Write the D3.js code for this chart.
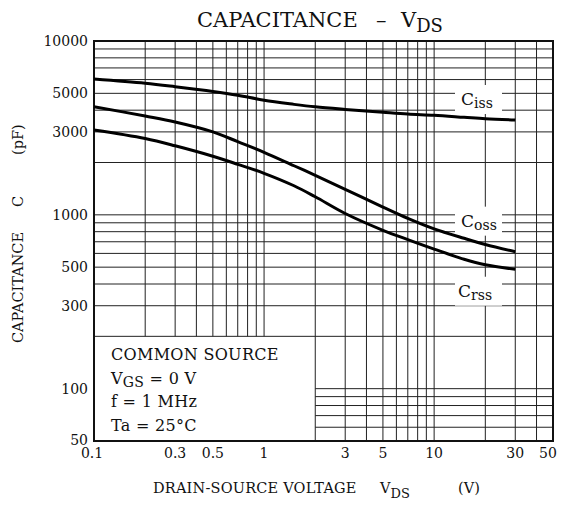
<!DOCTYPE html>
<html>
<head>
<meta charset="utf-8">
<script src="https://cdn.jsdelivr.net/npm/d3@7"></script>
<style>
  body { margin: 0; background: #fff; }
  text { font-family: "DejaVu Serif", "Liberation Serif", serif; fill: #111; }
</style>
</head>
<body>
<div id="chart"></div>
<script>

// size of the plot area
const widthPlot = 459;
const heightPlot = 400;
const marginPlot = {top: 41, bottom: 67, right: 9, left: 94};

// drain-source voltage (V) where the curves were read
const vdsValues = [0.1, 0.2, 0.3, 0.5, 0.7, 1, 1.5, 2, 3, 5, 7, 10, 15, 20, 30];

// capacitances (pF)
const cissValues = [6040, 5710, 5460, 5130, 4880, 4560, 4320, 4180, 4040, 3890, 3800, 3740, 3640, 3570, 3510];
const cossValues = [4190, 3700, 3420, 3000, 2635, 2290, 1916, 1688, 1403, 1109, 955, 831, 733, 675, 613];
const crssValues = [3076, 2748, 2496, 2173, 1953, 1734, 1470, 1270, 1018, 815, 720, 635, 555, 516, 486];

// tick labels
const xTickValues = [0.1, 0.3, 0.5, 1, 3, 5, 10, 30, 50];
const yTickValues = [50, 100, 300, 500, 1000, 3000, 5000, 10000];

// condition text in the lower left box ("|" marks the subscript)
const conditionLines = ["COMMON SOURCE", "V|GS| = 0 V", "f = 1 MHz", "Ta = 25°C"];

// curve names, and the capacitance where their label sits
const seriesNames = ["iss", "oss", "rss"];
const seriesLabelAt = [4284, 855, 338];

function drawChart() {

  var svg = d3.select("#chart")
      .append("svg")
      .attr("width", widthPlot + marginPlot.left + marginPlot.right)
      .attr("height", heightPlot + marginPlot.top + marginPlot.bottom);

  var g = svg.append("g")
      .attr("transform", "translate(" + marginPlot.left + "," + marginPlot.top + ")");

  var xScale = d3.scaleLog()
      .domain([0.1, 50])
      .range([0, widthPlot]);

  var yScale = d3.scaleLog()
      .domain([50, 10000])
      .range([heightPlot, 0]);

  // grid values, 1..9 per decade (no lines between 100 and 200 pF)
  var xGrid = [];
  [0.1, 1, 10].forEach(function(d) {
    for (var i = 1; i < 10; i++) {
      if (d * i <= 50) xGrid.push(+(d * i).toFixed(2));
    }
  });
  xGrid.push(50);
  var yGrid = [50, 60, 70, 80, 90, 100];
  [100, 1000].forEach(function(d) {
    for (var i = 2; i <= 10; i++) yGrid.push(d * i);
  });

  // the box with the conditions has no grid: 0.1..2 V, 50..200 pF
  var boxX = 2, boxY = 200;

  g.append("g")
      .attr("class", "grid-x")
    .selectAll("line")
      .data(xGrid)
      .enter()
      .append("line")
      .attr("x1", function(d) { return xScale(d); })
      .attr("x2", function(d) { return xScale(d); })
      .attr("y1", function(d) { return d < boxX ? yScale(boxY) : heightPlot; })
      .attr("y2", 0)
      .attr("stroke", "#222")
      .attr("stroke-width", 1);

  g.append("g")
      .attr("class", "grid-y")
    .selectAll("line")
      .data(yGrid)
      .enter()
      .append("line")
      .attr("x1", function(d) { return d < boxY ? xScale(boxX) : 0; })
      .attr("x2", widthPlot)
      .attr("y1", function(d) { return yScale(d); })
      .attr("y2", function(d) { return yScale(d); })
      .attr("stroke", "#222")
      .attr("stroke-width", 1);

  // frame
  g.append("rect")
      .attr("width", widthPlot)
      .attr("height", heightPlot)
      .attr("fill", "none")
      .attr("stroke", "#111")
      .attr("stroke-width", 2);

  // curve labels on a white patch
  var labels = g.append("g").attr("class", "labels");
  seriesNames.forEach(function(name, i) {
    var ly = yScale(seriesLabelAt[i]);
    labels.append("rect")
        .attr("x", 361)
        .attr("y", ly - 20)
        .attr("width", 47)
        .attr("height", 29)
        .attr("fill", "#fff");
    var t = labels.append("text")
        .attr("x", i === 2 ? 364 : 367)
        .attr("y", ly)
        .style("font-size", "17px")
        .text("C");
    t.append("tspan")
        .attr("dy", 3.5)
        .style("font-size", "14px")
        .text(name);
  });

  // the three curves
  var line = d3.line()
      .x(function(d) { return xScale(d.x); })
      .y(function(d) { return yScale(d.y); })
      .curve(d3.curveCatmullRom.alpha(0.5));

  [cissValues, cossValues, crssValues].forEach(function(values, i) {
    var data = vdsValues.map(function(v, j) { return {x: v, y: values[j]}; });
    g.append("path")
        .datum(data)
        .attr("class", "curve " + seriesNames[i])
        .attr("fill", "none")
        .attr("stroke", "#000")
        .attr("stroke-width", 3)
        .attr("d", line);
  });

  // tick labels x
  g.append("g")
      .attr("class", "x-ticks")
    .selectAll("text")
      .data(xTickValues)
      .enter()
      .append("text")
      .attr("x", function(d) { return xScale(d) + (d === 0.1 ? -2 : d === 50 ? -5 : 0); })
      .attr("y", heightPlot + 17)
      .attr("text-anchor", "middle")
      .style("font-size", "14px")
      .text(function(d) { return d; });

  // tick labels y
  g.append("g")
      .attr("class", "y-ticks")
    .selectAll("text")
      .data(yTickValues)
      .enter()
      .append("text")
      .attr("x", -6)
      .attr("y", function(d) { return yScale(d) + (d === 50 ? 4 : 5); })
      .attr("text-anchor", "end")
      .style("font-size", "14px")
      .text(function(d) { return d; });

  // conditions
  conditionLines.forEach(function(s, i) {
    var parts = s.split("|");
    var t = g.append("text")
        .attr("x", 17)
        .attr("y", yScale(boxY) + 23.5 + i * 23.7)
        .style("font-size", "16px")
        .style("letter-spacing", "0.3px")
        .text(parts[0]);
    if (parts.length > 1) {
      t.append("tspan").attr("dy", 3.5).style("font-size", "14px").text(parts[1]);
      t.append("tspan").attr("dy", -3.5).text(parts[2]);
    }
  });

  // title
  svg.append("text")
      .attr("x", 197)
      .attr("y", 26.7)
      .style("font-size", "21px")
      .text("CAPACITANCE");
  svg.append("text")
      .attr("x", 376)
      .attr("y", 26.7)
      .style("font-size", "21px")
      .text("–");
  svg.append("text")
      .attr("x", 401)
      .attr("y", 26.7)
      .style("font-size", "21px")
      .text("V")
    .append("tspan")
      .attr("dy", 5)
      .style("font-size", "18px")
      .text("DS");

  // x-axis title
  svg.append("text")
      .attr("x", 153)
      .attr("y", 492.7)
      .style("font-size", "14.5px")
      .style("letter-spacing", "0.2px")
      .text("DRAIN-SOURCE VOLTAGE");
  svg.append("text")
      .attr("x", 380)
      .attr("y", 492.7)
      .style("font-size", "14.5px")
      .text("V")
    .append("tspan")
      .attr("dy", 5)
      .style("font-size", "13px")
      .text("DS");
  svg.append("text")
      .attr("x", 458)
      .attr("y", 492.7)
      .style("font-size", "14.5px")
      .text("(V)");

  // y-axis title, pieces placed along the rotated axis
  var yTitle = svg.append("g")
      .attr("transform", "translate(23,0) rotate(-90)");
  [["CAPACITANCE", 343], ["C", 207], ["(pF)", 155]].forEach(function(p) {
    yTitle.append("text")
        .attr("x", -p[1])
        .attr("y", 0)
        .style("font-size", "14.5px")
        .text(p[0]);
  });
}

drawChart();
</script>
</body>
</html>
